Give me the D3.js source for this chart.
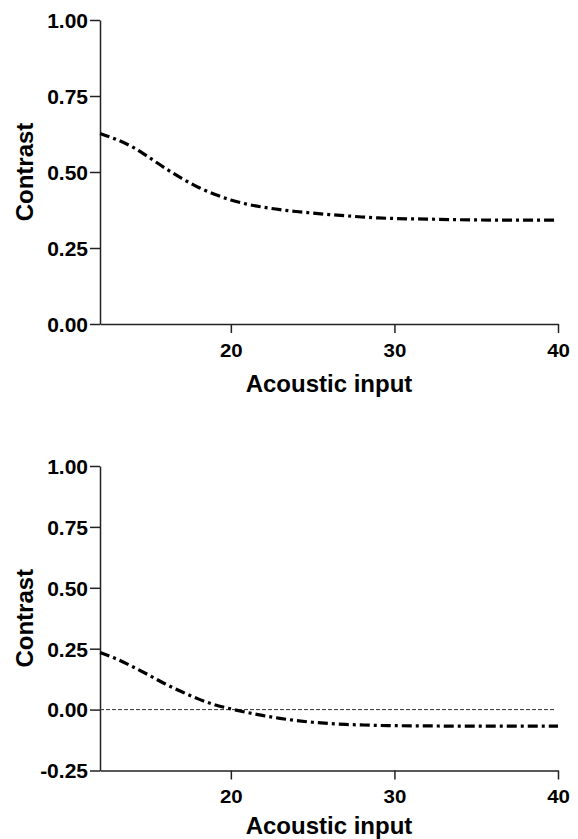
<!DOCTYPE html>
<html>
<head>
<meta charset="utf-8">
<script src="https://cdn.jsdelivr.net/npm/d3@7"></script>
<style>
  html, body { margin: 0; padding: 0; background: #ffffff; }
  svg { display: block; }
  text { font-family: "Liberation Sans", Arial, sans-serif; font-weight: bold; fill: #000; }
</style>
</head>
<body>
<svg id="chart" width="578" height="839"></svg>
<script>
// Acoustic input levels shared by both curves
const inputLevels = [12, 13, 14, 15, 16, 17, 18, 19, 20, 21, 22, 23, 24, 25, 26, 27, 28, 29, 30, 32, 34, 36, 38, 40];

// Contrast curve, upper panel
const contrastUpper = [0.627, 0.607, 0.582, 0.548, 0.512, 0.479, 0.450, 0.427, 0.408, 0.394, 0.384, 0.376, 0.370, 0.365, 0.360, 0.356, 0.352, 0.349, 0.347, 0.345, 0.343, 0.342, 0.342, 0.342];

// Contrast curve, lower panel
const contrastLower = [0.234, 0.208, 0.176, 0.141, 0.105, 0.073, 0.044, 0.020, 0.003, -0.012, -0.025, -0.036, -0.045, -0.052, -0.057, -0.061, -0.063, -0.065, -0.066, -0.067, -0.068, -0.068, -0.068, -0.068];

// Axis ticks
const xTicks = [20, 30, 40];
const yTicksUpper = [0, 0.25, 0.5, 0.75, 1.0];
const yTicksLower = [-0.25, 0, 0.25, 0.5, 0.75, 1.0];

const svg = d3.select("#chart");

const left = 100, right = 558;

function drawPanel(cfg) {
  const x = d3.scaleLinear().domain([12, 40]).range([left, right]);
  const y = d3.scaleLinear().domain(cfg.yDomain).range([cfg.bottom, cfg.top]);
  const g = svg.append("g");

  // y axis, labels with a plain hyphen for negatives
  const yAxis = g.append("g")
    .attr("transform", `translate(${left},0)`)
    .call(d3.axisLeft(y).tickValues(cfg.yTicks).tickFormat(d => d.toFixed(2)).tickSize(10).tickPadding(2).tickSizeOuter(0));
  yAxis.selectAll("text").attr("font-size", 21).attr("dy", "0.35em");

  // x axis, wide short digits
  const xAxis = g.append("g")
    .attr("transform", `translate(0,${cfg.bottom})`)
    .call(d3.axisBottom(x).tickValues(xTicks).tickFormat(d3.format("d")).tickSize(9).tickPadding(0).tickSizeOuter(0));
  xAxis.selectAll("text")
    .attr("font-size", 17.5).attr("y", 33).attr("dy", 0)
    .attr("transform", "scale(1.17,1)");

  [yAxis, xAxis].forEach(a => {
    a.select(".domain").attr("stroke", "#222").attr("stroke-width", 1.5);
    a.selectAll(".tick line").attr("stroke", "#222").attr("stroke-width", 1.5);
  });

  // Reference line at zero contrast
  if (cfg.zeroLine) {
    g.append("line")
      .attr("x1", left).attr("x2", x(39.8))
      .attr("y1", y(0)).attr("y2", y(0))
      .attr("stroke", "#333").attr("stroke-width", 1)
      .attr("stroke-dasharray", "4,2");
  }

  // Contrast curve
  const line = d3.line()
    .x((d, i) => x(inputLevels[i]))
    .y(d => y(d))
    .curve(d3.curveMonotoneX);
  g.append("path")
    .datum(cfg.values)
    .attr("d", line)
    .attr("fill", "none")
    .attr("stroke", "#000")
    .attr("stroke-width", 3.2)
    .attr("stroke-dasharray", "10,4,3,4");

  // Axis titles
  g.append("text")
    .attr("x", (left + right) / 2)
    .attr("y", cfg.xTitleY)
    .attr("text-anchor", "middle")
    .attr("font-size", 24)
    .text("Acoustic input");

  g.append("text")
    .attr("transform", `translate(33,${(cfg.top + cfg.bottom) / 2}) rotate(-90)`)
    .attr("text-anchor", "middle")
    .attr("font-size", 24)
    .text("Contrast");
}

drawPanel({ top: 20, bottom: 324, yDomain: [0, 1], yTicks: yTicksUpper, values: contrastUpper, zeroLine: false, xTitleY: 392 });
drawPanel({ top: 466, bottom: 770.5, yDomain: [-0.25, 1], yTicks: yTicksLower, values: contrastLower, zeroLine: true, xTitleY: 834 });
</script>
</body>
</html>
